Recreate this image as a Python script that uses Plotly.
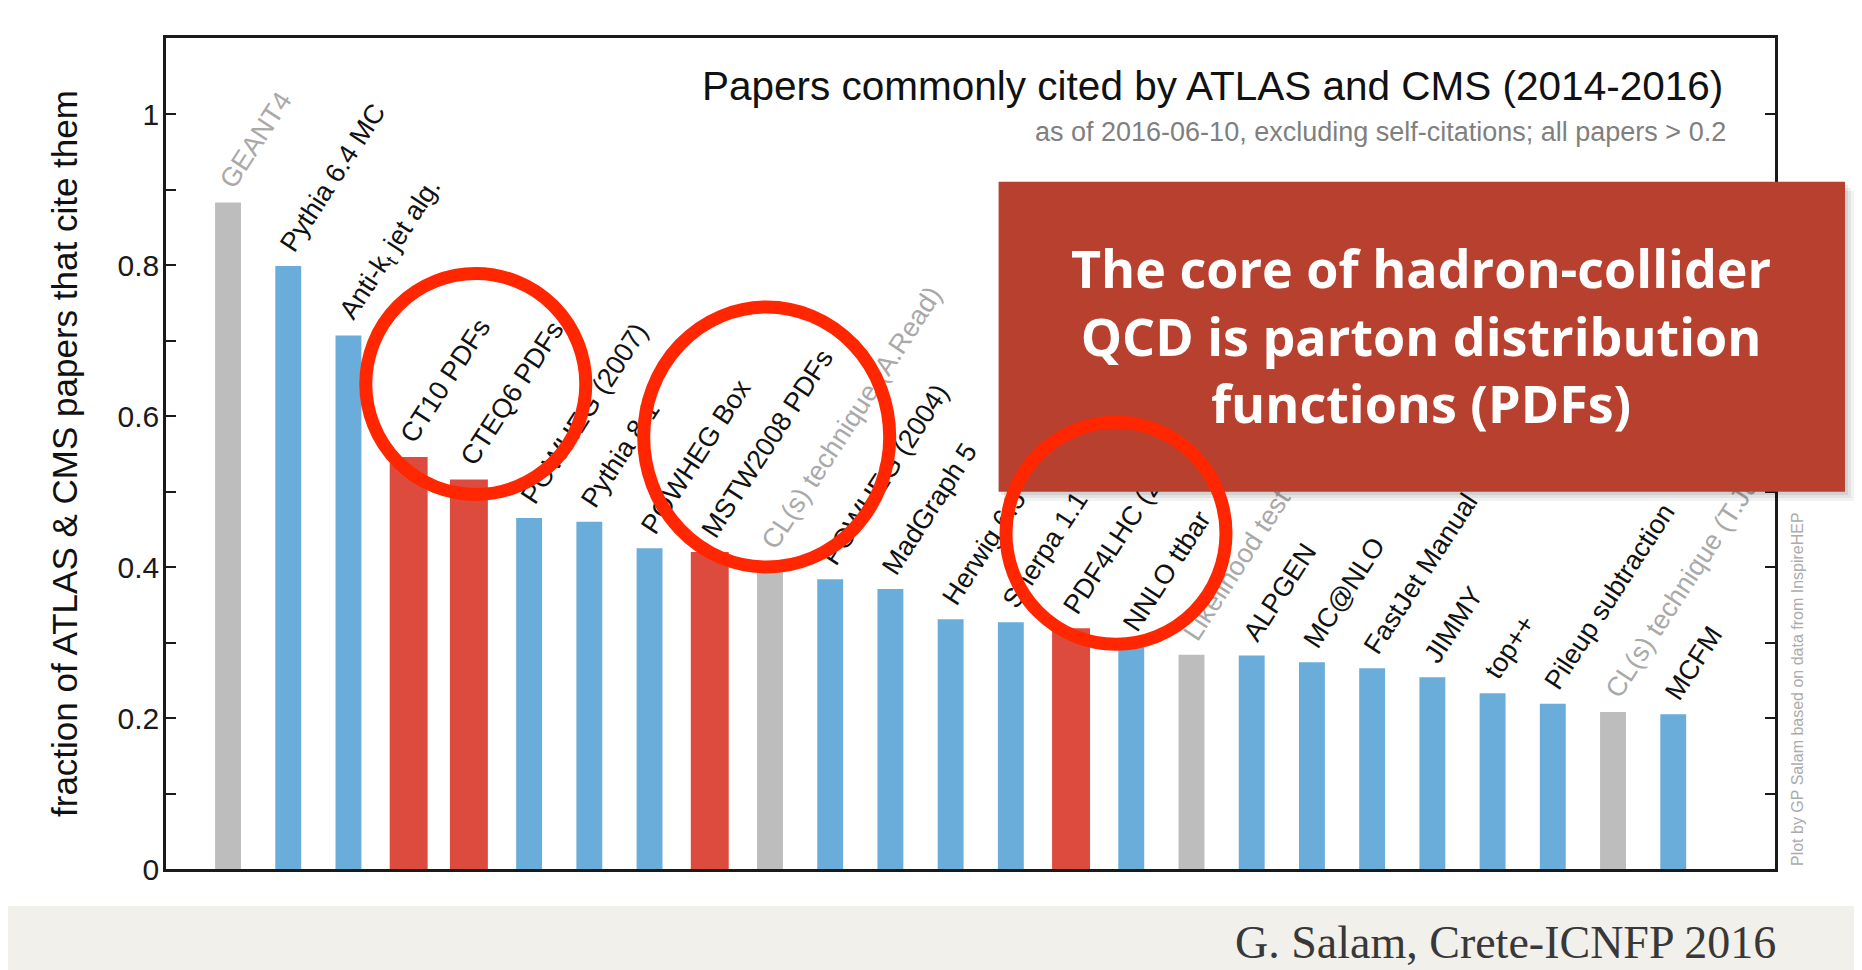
import math
import re
import plotly.graph_objects as go

# papers, in the order they appear along the axis
names = ["GEANT4", "Pythia 6.4 MC", "Anti-k<sub>t</sub> jet alg.", "CT10 PDFs", "CTEQ6 PDFs",
         "POWHEG (2007)", "Pythia 8.1", "POWHEG Box", "MSTW2008 PDFs", "CL(s) technique (A.Read)",
         "POWHEG (2004)", "MadGraph 5", "Herwig 6.5", "Sherpa 1.1", "PDF4LHC (2011)",
         "NNLO ttbar", "Likelihood test (Cowan et al.)", "ALPGEN", "MC@NLO", "FastJet Manual",
         "JIMMY", "top++", "Pileup subtraction", "CL(s) technique (T.Junk)", "MCFM"]
fractions = [0.883, 0.799, 0.707, 0.546, 0.516,
             0.465, 0.460, 0.425, 0.420, 0.405,
             0.384, 0.371, 0.331, 0.327, 0.319,
             0.296, 0.284, 0.283, 0.274, 0.266,
             0.254, 0.233, 0.219, 0.208, 0.205]
# g = statistics / software (grey), b = generic (blue), r = PDF sets (red)
kinds = ["g", "b", "b", "r", "r",
         "b", "b", "b", "r", "g",
         "b", "b", "b", "b", "r",
         "b", "g", "b", "b", "b",
         "b", "b", "b", "g", "b"]
yticks = [0, 0.1, 0.2, 0.3, 0.4, 0.5, 0.6, 0.7, 0.8, 0.9, 1.0]
yticktext = ["0", "", "0.2", "", "0.4", "", "0.6", "", "0.8", "", "1"]

BAR_COL = {"b": "#6aacda", "r": "#dc4b3d", "g": "#bdbdbd"}
LAB_COL = {"b": "#111111", "r": "#111111", "g": "#a9a9a9"}
BAR_W = {"b": 0.43, "r": 0.63, "g": 0.43}

# target plot area, in pixels of the browser window
W_PX, H_PX = 1862, 970
OFF = 8   # the page body adds an 8px margin around the figure
L, R, T, B = 166, 1775, 38, 869
XR = [-1.03, 25.69]
YR = [0, 1.101]
PX_CAT = (R - L) / (XR[1] - XR[0])
PX_Y = (B - T) / (YR[1] - YR[0])


def fx(p):
    return (p - L) / (R - L)


def fy(p):
    return (B - p) / (B - T)


# Arial / Liberation Sans advance widths, to place the rotated labels
AW = {" ": 278, ".": 278, ",": 278, "(": 333, ")": 333, "-": 333, "+": 584, "@": 1015, ";": 278}
AW.update({c: 556 for c in "0123456789"})
AW.update(dict(zip("ABCDEFGHIJKLMNOPQRSTUVWXYZ",
                   [667, 667, 722, 722, 667, 611, 778, 722, 278, 500, 667, 556, 833,
                    722, 778, 667, 778, 722, 667, 611, 722, 667, 944, 667, 667, 611])))
AW.update(dict(zip("abcdefghijklmnopqrstuvwxyz",
                   [556, 556, 500, 556, 556, 278, 556, 556, 222, 222, 500, 222, 833,
                    556, 556, 556, 556, 333, 500, 278, 556, 500, 722, 500, 500, 500])))


def text_px(s, size):
    s = re.sub(r"<[^>]+>", "", s)
    return size * sum(AW.get(c, 556) for c in s) / 1000


LAB_SIZE = 27
LAB_ANGLE = 57
LAB_GAP = 9    # px between bar top and label
LAB_DX = 11    # px shift of label start from bar centre
LAB_W = 0.04
th = math.radians(LAB_ANGLE)
lab_h = 1.117 * LAB_SIZE
lab_off = []
for n in names:
    w = text_px(n, LAB_SIZE)
    dx = LAB_DX + 0.5 * w * math.cos(th) - 0.5 * lab_h * math.sin(th)
    lab_off.append(dx / PX_CAT - LAB_W / 2)
lab_y = [v + LAB_GAP / PX_Y for v in fractions]

fig = go.Figure()

fig.add_trace(go.Bar(
    x=names, y=fractions,
    width=[BAR_W[k] for k in kinds],
    marker=dict(color=[BAR_COL[k] for k in kinds], line_width=0),
    hovertemplate="%{x}: %{y:.3f}<extra></extra>",
))

# invisible bars that only carry the rotated paper names
fig.add_trace(go.Bar(
    x=names, y=lab_y, width=LAB_W, offset=lab_off,
    marker=dict(color="rgba(0,0,0,0)", line_width=0),
    text=names, textposition="outside", textangle=-LAB_ANGLE,
    constraintext="none", cliponaxis=False,
    textfont=dict(family="Liberation Sans, Arial", size=LAB_SIZE,
                  color=[LAB_COL[k] for k in kinds]),
    hoverinfo="skip",
))

shapes = [
    # bottom band of the slide
    dict(type="rect", xref="paper", yref="paper", layer="below",
         x0=fx(0), x1=fx(W_PX + OFF), y0=fy(906), y1=fy(H_PX + OFF),
         fillcolor="#f2f0eb", line_width=0),
]
# drop shadow of the message box
for i, a in enumerate([0.05, 0.06, 0.08]):
    d = 9 - 3 * i
    shapes.append(dict(type="rect", xref="paper", yref="paper", layer="above",
                       x0=fx(998 + d), x1=fx(1845 + d), y0=fy(182 + d), y1=fy(492 + d),
                       fillcolor="rgba(0,0,0,%s)" % a, line_width=0))
shapes.append(dict(type="rect", xref="paper", yref="paper", layer="above",
                   x0=fx(998.6), x1=fx(1845), y0=fy(181.7), y1=fy(491.7),
                   fillcolor="#b8402f", line_width=0))
# red circles around the PDF papers
for cx, cy, rx, ry in [(475.8, 384, 110, 110.5), (766.7, 437, 123, 130), (1116, 533.3, 110, 111)]:
    shapes.append(dict(type="circle", xref="paper", yref="paper", layer="above",
                       x0=fx(cx - rx), x1=fx(cx + rx), y0=fy(cy + ry), y1=fy(cy - ry),
                       fillcolor="rgba(0,0,0,0)", line=dict(color="#ff2600", width=13)))

annotations = [
    dict(text="Papers commonly cited by ATLAS and CMS (2014-2016)",
         x=fx(1725), y=fy(86), xanchor="right", yanchor="middle",
         font=dict(family="Liberation Sans, Arial", size=40.5, color="#111111")),
    dict(text="as of 2016-06-10, excluding self-citations; all papers > 0.2",
         x=fx(1728), y=fy(132), xanchor="right", yanchor="middle",
         font=dict(family="Liberation Sans, Arial", size=27, color="#7f7f7f")),
    dict(text="fraction of ATLAS & CMS papers that cite them",
         x=fx(65), y=fy(454), xanchor="center", yanchor="middle", textangle=-90,
         font=dict(family="Liberation Sans, Arial", size=35, color="#111111")),
    dict(text="Plot by GP Salam based on data from InspireHEP",
         x=fx(1797), y=fy(868), xanchor="center", yanchor="bottom", textangle=-90,
         font=dict(family="Liberation Sans, Arial", size=16, color="#ababab")),
    dict(text="The core of hadron-collider<br>QCD is parton distribution<br>functions (PDFs)",
         x=fx(1421), y=fy(335), xanchor="center", yanchor="middle",
         font=dict(family="Open Sans", size=52, color="white", weight="bold")),
    dict(text="G. Salam, Crete-ICNFP 2016",
         x=fx(1778), y=fy(942), xanchor="right", yanchor="middle",
         font=dict(family="Liberation Serif, serif", size=46, color="#383838")),
]
for a in annotations:
    a.update(xref="paper", yref="paper", showarrow=False)

fig.update_layout(
    width=W_PX, height=H_PX,
    margin=dict(l=L - OFF, r=W_PX - (R - OFF), t=T - OFF, b=H_PX - (B - OFF)),
    paper_bgcolor="white", plot_bgcolor="white",
    barmode="overlay", showlegend=False,
    shapes=shapes, annotations=annotations,
    xaxis=dict(range=XR, showticklabels=False, ticks="", showgrid=False, zeroline=False,
               showline=True, mirror=True, linecolor="#1a1a1a", linewidth=2.5),
    yaxis=dict(range=YR, tickmode="array", tickvals=yticks, ticktext=yticktext,
               ticks="inside", ticklen=10, tickwidth=1.5, tickcolor="#1a1a1a",
               ticklabelstandoff=-2,
               tickfont=dict(family="Liberation Sans, Arial", size=30, color="#1a1a1a"),
               showgrid=False, zeroline=False,
               showline=True, mirror="allticks", linecolor="#1a1a1a", linewidth=2.5),
)

fig.write_html("out.html")
